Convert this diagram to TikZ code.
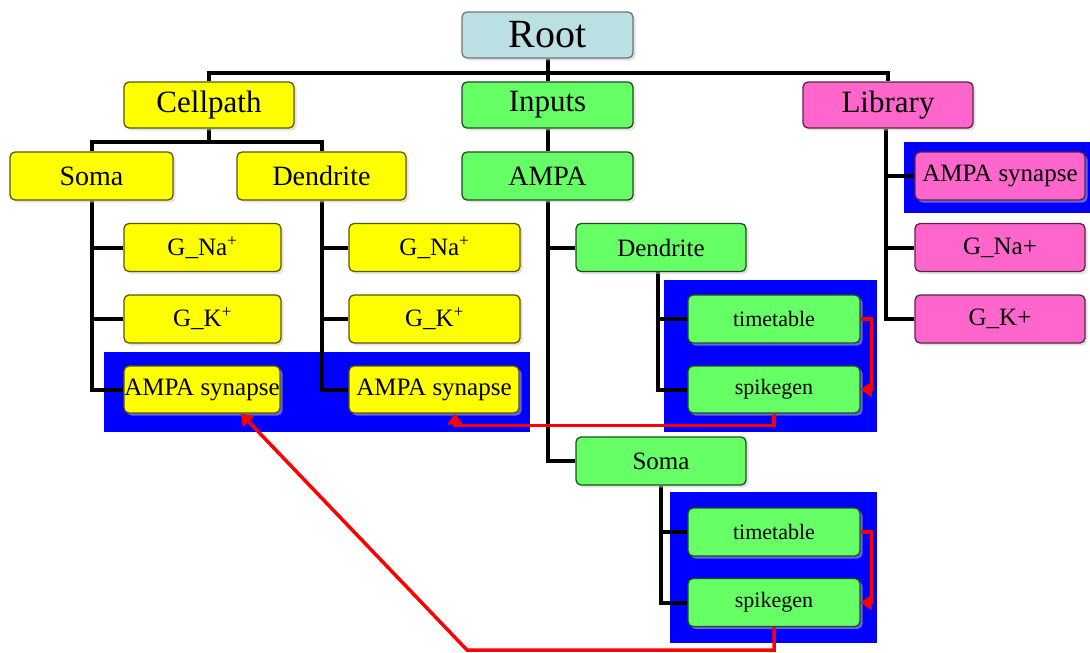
\documentclass[tikz,border=0pt]{standalone}
\usepackage{fontspec}
\setmainfont{Liberation Serif}
\usetikzlibrary{arrows.meta,shadows,backgrounds}

\definecolor{rootblue}{HTML}{BBE0E3}
\definecolor{cellyellow}{HTML}{FFFF00}
\definecolor{inputgreen}{HTML}{66FF66}
\definecolor{libpink}{HTML}{FF66CC}
\definecolor{groupblue}{HTML}{0000FF}

\tikzset{
  box/.style={rectangle, rounded corners=5pt, line width=1.3pt,
    minimum width=170pt, minimum height=48pt, inner sep=0pt,
    drop shadow={shadow xshift=2.5pt, shadow yshift=-2.5pt, fill=black!22}},
  rootbox/.style={box, fill=rootblue, draw=black!55},
  cellbox/.style={box, fill=cellyellow, draw=cellyellow!35!black},
  inbox/.style={box, fill=inputgreen, draw=inputgreen!30!black},
  libbox/.style={box, fill=libpink, draw=libpink!35!black},
  huge/.style={font=\fontsize{40}{44}\selectfont},
  large/.style={font=\fontsize{31}{34}\selectfont},
  mid/.style={font=\fontsize{28}{30}\selectfont},
  small/.style={font=\fontsize{25}{27}\selectfont},
  tiny/.style={font=\fontsize{22}{24}\selectfont},
  tree/.style={line width=4pt},
  link/.style={red, line width=3.5pt, -{Triangle[width=15pt,length=11pt]}},
  group/.style={fill=groupblue}
}

\begin{document}
\begin{tikzpicture}[x=1pt,y=-1pt]

    \useasboundingbox (0,0) rectangle (1090,653);

    % --- TOP LEVEL ---
    \node[rootbox, huge, minimum width=171pt, minimum height=46pt] (root) at (547.5,35) {Root};
    \node[cellbox, large, minimum height=46pt] (cellpath) at (209,105) {Cellpath};
    \node[inbox, large, minimum width=171pt, minimum height=46pt] (inputs) at (547.5,105) {Inputs};
    \node[libbox, large, minimum height=46pt] (library) at (888,105) {Library};

    % --- CELLPATH BRANCH ---
    \node[cellbox, mid, minimum width=163pt] (soma) at (91.5,176) {Soma};
    \node[cellbox, mid, minimum width=169pt] (dendrite) at (321.5,176) {Dendrite};

    \node[cellbox, small, minimum width=157pt] (somaNa) at (202.5,247.5) {G\_Na\textsuperscript{+}};
    \node[cellbox, small, minimum width=157pt] (somaK) at (202.5,319) {G\_K\textsuperscript{+}};
    \node[cellbox, small, minimum width=156pt, minimum height=47pt] (somaSyn) at (202,389.5) {AMPA synapse};

    \node[cellbox, small, minimum width=171pt] (dendNa) at (434.5,247.5) {G\_Na\textsuperscript{+}};
    \node[cellbox, small, minimum width=171pt] (dendK) at (434.5,319) {G\_K\textsuperscript{+}};
    \node[cellbox, small, minimum height=47pt] (dendSyn) at (434,389.5) {AMPA synapse};

    % --- INPUTS BRANCH ---
    \node[inbox, mid, minimum width=171pt] (ampa) at (547.5,176) {AMPA};
    \node[inbox, small] (inDend) at (661,247.5) {Dendrite};
    \node[inbox, tiny, minimum width=172pt] (dendTime) at (774,319) {timetable};
    \node[inbox, tiny, minimum width=172pt, minimum height=47pt] (dendSpike) at (774,389.5) {spikegen};
    \node[inbox, small] (inSoma) at (661,461) {Soma};
    \node[inbox, tiny, minimum width=172pt] (somaTime) at (774,532) {timetable};
    \node[inbox, tiny, minimum width=172pt] (somaSpike) at (774,602.5) {spikegen};

    % --- LIBRARY BRANCH ---
    \node[libbox, small] (libSyn) at (1000,176) {AMPA synapse};
    \node[libbox, small] (libNa) at (1000,247.5) {G\_Na+};
    \node[libbox, small] (libK) at (1000,319) {G\_K+};

    % Blue groups and tree lines, behind the boxes
    \begin{scope}[on background layer]
      \fill[group] (104,352) rectangle (530,432);
      \fill[group] (664,280) rectangle (877,432);
      \fill[group] (670,492) rectangle (877,643);
      \fill[group] (904,142) rectangle (1090,213);

      \draw[tree] (root.south) -- ++(0,14) coordinate (rootbus);
      \draw[tree] (cellpath.north) |- (rootbus) -| (library.north);
      \draw[tree] (rootbus) -- (inputs.north);
      \draw[tree] (inputs.south) -- (ampa.north);

      \draw[tree] (cellpath.south) -- ++(0,13) coordinate (cellbus);
      \draw[tree] (soma.north) |- (cellbus) -| (dendrite.north);

      \draw[tree] (soma.south) |- (somaNa.west);
      \draw[tree] (soma.south) |- (somaK.west);
      \draw[tree] (soma.south) |- (somaSyn.west);
      \draw[tree] (dendrite.south) |- (dendNa.west);
      \draw[tree] (dendrite.south) |- (dendK.west);
      \draw[tree] (dendrite.south) |- (dendSyn.west);

      \draw[tree] (ampa.south) |- (inDend.west);
      \draw[tree] (ampa.south) |- (inSoma.west);
      \draw[tree] ([xshift=-3pt]inDend.south) |- (dendTime.west);
      \draw[tree] ([xshift=-3pt]inDend.south) |- (dendSpike.west);
      \draw[tree] (inSoma.south) |- (somaTime.west);
      \draw[tree] (inSoma.south) |- (somaSpike.west);

      \draw[tree] ([xshift=-2pt]library.south) |- (libSyn.west);
      \draw[tree] ([xshift=-2pt]library.south) |- (libNa.west);
      \draw[tree] ([xshift=-2pt]library.south) |- (libK.west);
    \end{scope}

    % --- red links between inputs and synapses ---
    \coordinate (bend) at (467,650);
    \draw[link] (dendTime.east) -- ++(11,0) |- (dendSpike.east);
    \draw[link] (somaTime.east) -- ++(11,0) |- (somaSpike.east);
    \draw[link] (dendSpike.south) -- ++(0,12) -| ([xshift=21pt]dendSyn.south);
    \draw[link] (somaSpike.south) |- (bend) -- ([xshift=39pt]somaSyn.south);

\end{tikzpicture}
\end{document}
